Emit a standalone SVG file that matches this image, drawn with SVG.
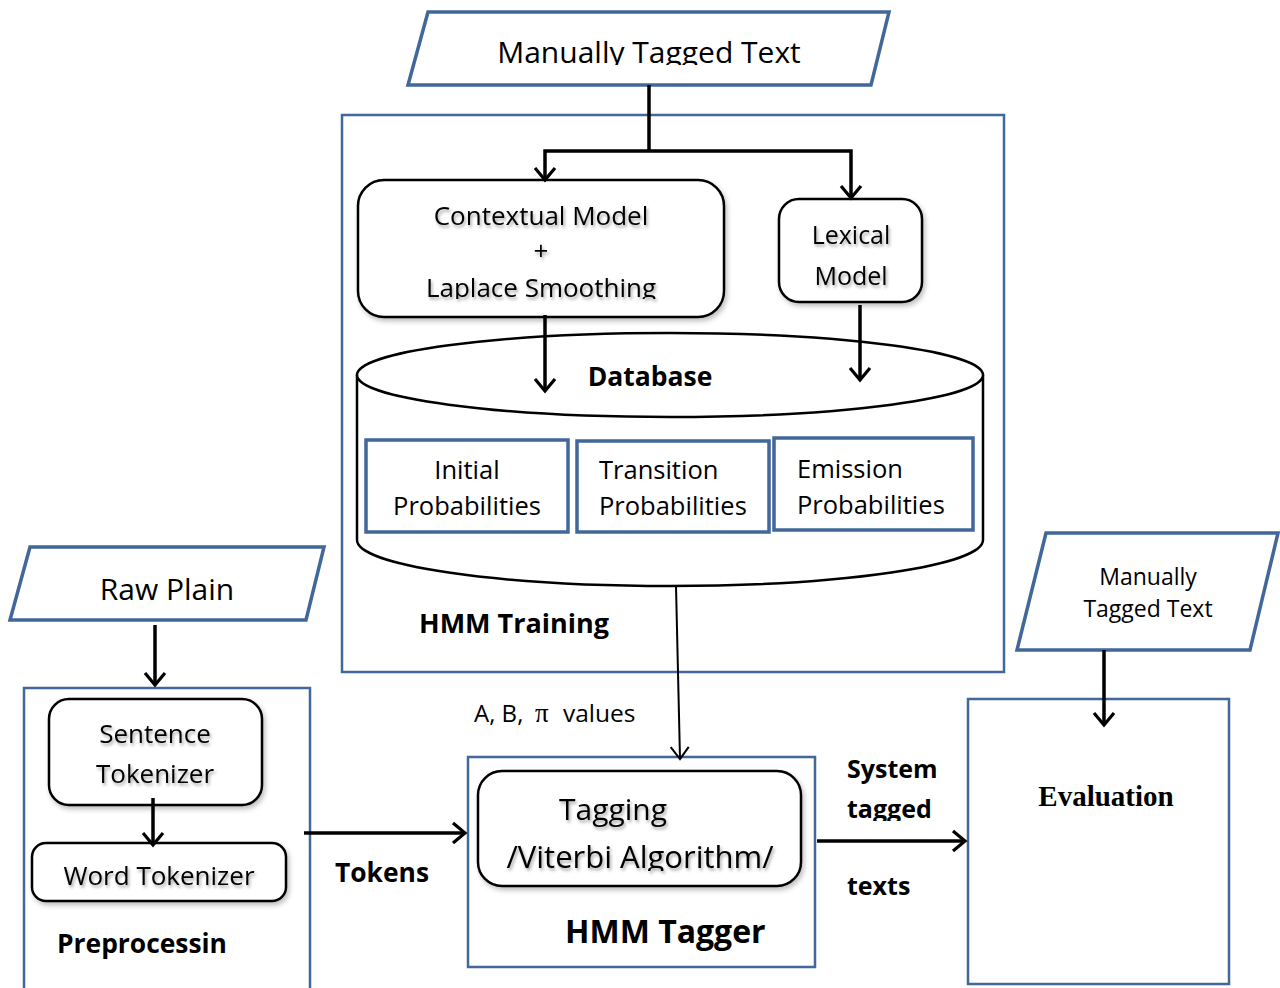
<svg xmlns="http://www.w3.org/2000/svg" width="1280" height="988" viewBox="0 0 1280 988">
  <style>
    .frame { fill: #ffffff; stroke: #41679b; stroke-width: 2.5; }
    .io { fill: #ffffff; stroke: #41679b; stroke-width: 3.5; }
    .prob { fill: #ffffff; stroke: #41679b; stroke-width: 3.5; }
    .proc { fill: #ffffff; stroke: #000000; stroke-width: 2.5; }
    .db { fill: #ffffff; stroke: #000000; stroke-width: 2.5; }
    .t { font-family: "Open Sans", "Liberation Sans", sans-serif; fill: #000000; }
    .b { font-weight: bold; }
    .serif { font-family: "Liberation Serif", "DejaVu Serif", serif; }
    .wire { fill: none; stroke: #000000; stroke-width: 3.5; }
    .thin { fill: none; stroke: #000000; stroke-width: 2; }
  </style>
  <defs>
    <marker id="head" markerUnits="userSpaceOnUse" viewBox="-16 -12 20 24" markerWidth="20" markerHeight="24" refX="0" refY="0" orient="auto">
      <path d="M-12,-10 L0,0 L-12,10" fill="none" stroke="#000000" stroke-width="3.2"/>
    </marker>
    <marker id="headThin" markerUnits="userSpaceOnUse" viewBox="-16 -12 20 24" markerWidth="20" markerHeight="24" refX="0" refY="0" orient="auto">
      <path d="M-12,-9 L0,0 L-12,9" fill="none" stroke="#000000" stroke-width="2"/>
    </marker>
    <filter id="shadow" x="-10%" y="-10%" width="130%" height="140%">
      <feDropShadow dx="2" dy="3" stdDeviation="2.5" flood-color="#000000" flood-opacity="0.25"/>
    </filter>
    <filter id="tshadow" x="-10%" y="-30%" width="130%" height="170%">
      <feDropShadow dx="1.5" dy="2.5" stdDeviation="1.5" flood-color="#000000" flood-opacity="0.35"/>
    </filter>
    <clipPath id="clipTop"><rect x="0" y="0" width="1280" height="65"/></clipPath>
    <clipPath id="clipLaplace"><rect x="0" y="0" width="1280" height="299"/></clipPath>
    <clipPath id="clipTagging"><rect x="0" y="0" width="1280" height="828"/></clipPath>
    <clipPath id="clipViterbi"><rect x="0" y="0" width="1280" height="871"/></clipPath>
    <clipPath id="clipTagged"><rect x="0" y="0" width="1280" height="821"/></clipPath>
  </defs>

  <rect width="1280" height="988" fill="#ffffff"/>

  <!-- training frame -->
  <g id="hmm-training">
    <rect class="frame" x="342" y="115" width="662" height="557"/>
    <text class="t b" x="419" y="633" font-size="27">HMM Training</text>
  </g>

  <!-- tagged corpus input -->
  <g id="manual-text-top">
    <polygon class="io" points="428,12 889,12 871,85 408,85"/>
    <text class="t" x="649" y="63" font-size="30" text-anchor="middle" clip-path="url(#clipTop)">Manually Tagged Text</text>
  </g>

  <g id="contextual-model" filter="url(#shadow)">
    <rect class="proc" x="358" y="180" width="366" height="137" rx="26"/>
  </g>
  <g id="contextual-model-text" filter="url(#tshadow)">
    <text class="t" x="541" y="225" font-size="26" text-anchor="middle">Contextual Model</text>
    <text class="t" x="541" y="260" font-size="26" text-anchor="middle">+</text>
    <text class="t" x="541" y="297" font-size="26" text-anchor="middle" clip-path="url(#clipLaplace)">Laplace Smoothing</text>
  </g>

  <g id="lexical-model">
    <rect class="proc" x="779" y="199" width="143" height="103" rx="20" filter="url(#shadow)"/>
    <g filter="url(#tshadow)">
      <text class="t" x="851" y="244" font-size="25" text-anchor="middle">Lexical</text>
      <text class="t" x="851" y="285" font-size="25" text-anchor="middle">Model</text>
    </g>
  </g>

  <!-- database cylinder -->
  <g id="database">
    <path class="db" d="M357,375 L357,540 A313,46 0 0 0 983,540 L983,375"/>
    <ellipse class="db" cx="670" cy="375" rx="313" ry="42"/>
    <text class="t b" x="650" y="386" font-size="26.5" text-anchor="middle">Database</text>
  </g>

  <g id="initial-probabilities">
    <rect class="prob" x="366" y="440" width="202" height="92"/>
    <text class="t" x="467" y="479" font-size="25.5" text-anchor="middle">Initial</text>
    <text class="t" x="467" y="515" font-size="25.5" text-anchor="middle">Probabilities</text>
  </g>
  <g id="transition-probabilities">
    <rect class="prob" x="577" y="441" width="192" height="91"/>
    <text class="t" x="599" y="479" font-size="25.5">Transition</text>
    <text class="t" x="599" y="515" font-size="25.5">Probabilities</text>
  </g>
  <g id="emission-probabilities">
    <rect class="prob" x="774" y="438" width="199" height="92"/>
    <text class="t" x="797" y="478" font-size="25.5">Emission</text>
    <text class="t" x="797" y="514" font-size="25.5">Probabilities</text>
  </g>

  <!-- raw input and preprocessing -->
  <g id="raw-plain">
    <polygon class="io" points="30,547 324,547 306,620 10,620"/>
    <text class="t" x="167" y="600" font-size="30" text-anchor="middle">Raw Plain</text>
  </g>

  <g id="preprocessing">
    <rect class="frame" x="24" y="688" width="286" height="310"/>
    <text class="t b" x="57" y="953" font-size="26.4">Preprocessin</text>
  </g>

  <g id="sentence-tokenizer">
    <rect class="proc" x="49" y="699" width="213" height="106" rx="20" filter="url(#shadow)"/>
    <g filter="url(#tshadow)">
      <text class="t" x="155" y="743" font-size="26" text-anchor="middle">Sentence</text>
      <text class="t" x="155" y="783" font-size="26" text-anchor="middle">Tokenizer</text>
    </g>
  </g>

  <g id="word-tokenizer">
    <rect class="proc" x="32" y="843" width="254" height="58" rx="14" filter="url(#shadow)"/>
    <text class="t" x="159" y="885" font-size="26" text-anchor="middle" filter="url(#tshadow)">Word Tokenizer</text>
  </g>

  <!-- tagger -->
  <g id="hmm-tagger">
    <rect class="frame" x="468" y="757" width="347" height="210"/>
    <rect class="proc" x="478" y="771" width="323" height="115" rx="24" filter="url(#shadow)"/>
    <g filter="url(#tshadow)">
      <text class="t" x="613" y="820" font-size="30" text-anchor="middle" clip-path="url(#clipTagging)">Tagging</text>
      <text class="t" x="640" y="868" font-size="31" text-anchor="middle" clip-path="url(#clipViterbi)">/Viterbi Algorithm/</text>
    </g>
    <text class="t b" x="565" y="943" font-size="32">HMM Tagger</text>
  </g>

  <!-- evaluation -->
  <g id="manual-text-right">
    <polygon class="io" points="1046,533 1278,533 1250,650 1017,650"/>
    <text class="t" x="1148" y="585" font-size="23" text-anchor="middle">Manually</text>
    <text class="t" x="1148" y="617" font-size="23" text-anchor="middle">Tagged Text</text>
  </g>

  <g id="evaluation">
    <rect class="frame" x="968" y="699" width="261" height="285"/>
    <text class="t serif b" x="1106" y="806" font-size="29" text-anchor="middle">Evaluation</text>
  </g>

  <!-- connectors -->
  <g id="connectors">
    <path class="wire" d="M649,85 L649,151"/>
    <path class="wire" d="M649,151 L545,151 L545,180" marker-end="url(#head)"/>
    <path class="wire" d="M649,151 L851,151 L851,198" marker-end="url(#head)"/>
    <path class="wire" d="M545,315 L545,391" marker-end="url(#head)"/>
    <path class="wire" d="M860,305 L860,380" marker-end="url(#head)"/>
    <path class="thin" d="M676,586 L680,759" marker-end="url(#headThin)"/>
    <path class="wire" d="M155,625 L155,685" marker-end="url(#head)"/>
    <path class="wire" d="M153,798 L153,845" marker-end="url(#head)"/>
    <path class="wire" d="M304,833 L465,833" marker-end="url(#head)"/>
    <path class="wire" d="M817,841 L965,841" marker-end="url(#head)"/>
    <path class="wire" d="M1104,650 L1104,725" marker-end="url(#head)"/>
  </g>

  <!-- connector labels -->
  <g id="labels">
    <text class="t" x="474" y="722" font-size="24">A, B,</text>
    <text class="serif" x="535" y="722" font-size="27">π</text>
    <text class="t" x="563" y="722" font-size="24.5">values</text>
    <text class="t b" x="335" y="882" font-size="26.4">Tokens</text>
    <text class="t b" x="847" y="778" font-size="25">System</text>
    <text class="t b" x="847" y="818" font-size="25" clip-path="url(#clipTagged)">tagged</text>
    <text class="t b" x="847" y="895" font-size="25">texts</text>
  </g>
</svg>
